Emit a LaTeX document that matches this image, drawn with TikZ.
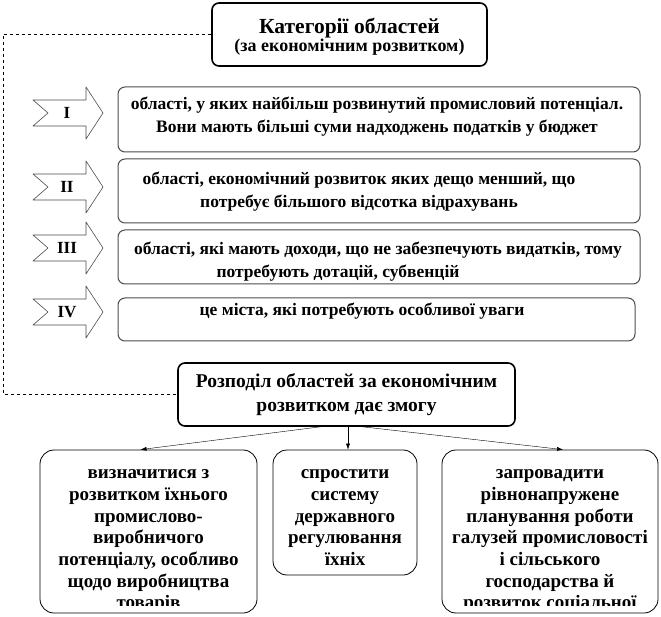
\documentclass[tikz,border=0pt]{standalone}
\usepackage{fontspec}
\setmainfont{Liberation Serif}
\usepackage{tikz}
\usetikzlibrary{arrows.meta,calc}
\usetikzlibrary{positioning}

\begin{document}
\begin{tikzpicture}[x=1pt,y=-1pt,>={Latex[length=6pt,width=4pt]},line join=round,
  headbox/.style={draw,line width=1.6pt,rounded corners=7pt,align=center,inner sep=0pt},
  catbox/.style={draw=black!70,line width=1pt,rounded corners=7pt},
  cattext/.style={align=center,inner sep=0pt,font=\fontsize{17.5}{23.5}\selectfont\bfseries},
  chev/.style={draw=black!70,line width=0.6pt,fill=white},
  numlabel/.style={font=\fontsize{17}{18}\selectfont\bfseries},
  effbox/.style={draw,line width=0.8pt,rounded corners=14pt},
  efftext/.style={align=center,inner sep=0pt,font=\fontsize{19}{21.7}\selectfont\bfseries}]
\useasboundingbox (0,0) rectangle (661,617);
% heading
\node[headbox,minimum width=275pt,minimum height=63pt] (title) at (349.5,34.5) {};
\node[align=center,inner sep=0pt] (titlet) at (349.5,37) {{\fontsize{21.5}{23}\selectfont\bfseries Категорії областей}\\[0pt]{\fontsize{18}{21}\selectfont\bfseries (за економічним розвитком)}};
% four categories: arrow + box
\foreach \y/\num in {113/I,187/II,248/III,312/IV} {\draw[chev] (33,\y-13) -- (86,\y-13) -- (86,\y-26) -- (103,\y) -- (86,\y+26) -- (86,\y+13) -- (33,\y+13) -- (48,\y) -- cycle; \node[numlabel] (n\num) at (67,\y) {\num};}
\node[catbox,minimum width=522pt,minimum height=65pt] (cat1) at (379,119.5) {};
\node[catbox,minimum width=522pt,minimum height=64pt] (cat2) at (379,191) {};
\node[catbox,minimum width=522pt,minimum height=54pt] (cat3) at (379,257) {};
\node[catbox,minimum width=517pt,minimum height=43pt] (cat4) at (376.5,319.5) {};
\node[cattext] (cat1t) at (377,116.5) {області, у яких найбільш розвинутий промисловий потенціал.\\Вони мають більші суми надходжень податків у бюджет};
\node[cattext] (cat2t) at (359,191.5) {області, економічний розвиток яких дещо менший, що\\потребує більшого відсотка відрахувань};
\node[cattext] (cat3t) at (378,261.5) {області, які мають доходи, що не забезпечують видатків, тому\\потребують дотацій, субвенцій\hspace*{80pt}};
\node[cattext] (cat4t) at (362,311) {це міста, які потребують особливої уваги};
% what the division gives
\node[headbox,minimum width=337pt,minimum height=63pt,font=\fontsize{19.5}{24}\selectfont\bfseries] (razp) at (346.5,394.5) {Розподіл областей за економічним\\розвитком дає змогу};
\coordinate (dcorner) at (3,34.5);
\draw[dashed,line width=0.6pt] (title.west) -- (dcorner) |- (razp.west);
% three outcomes, text clipped by the box like in the source
\node[effbox,minimum width=217pt,minimum height=163pt] (eff1) at (148.5,531.5) {};
\node[effbox,minimum width=144pt,minimum height=125pt] (eff2) at (345,512.5) {};
\node[effbox,minimum width=216pt,minimum height=163pt] (eff3) at (550,531.5) {};
\begin{scope}
\clip (eff1.north west) rectangle ([yshift=8pt]eff1.south east);
\node[efftext,anchor=north] (eff1t) at ([yshift=-20pt]eff1.north) {визначитися з\\розвитком їхнього\\промислово-\\виробничого\\потенціалу, особливо\\щодо виробництва\\товарів};
\end{scope}
\node[efftext,anchor=north] (eff2t) at ([yshift=-20pt]eff2.north) {спростити\\систему\\державного\\регулювання\\їхніх};
\begin{scope}
\clip (eff3.north west) rectangle ([yshift=8pt]eff3.south east);
\node[efftext,anchor=north] (eff3t) at ([yshift=-20pt]eff3.north) {запровадити\\рівнонапружене\\планування роботи\\галузей промисловості\\і сільського\\господарства й\\розвиток соціальної};
\end{scope}
\draw[->] ([xshift=-26pt]razp.south) -- ([xshift=-8pt]eff1.north);
\draw[->] ([xshift=1.5pt]razp.south) -- ([xshift=3pt]eff2.north);
\draw[->] ([xshift=16pt]razp.south) -- ([xshift=13pt]eff3.north);
\end{tikzpicture}
\end{document}
